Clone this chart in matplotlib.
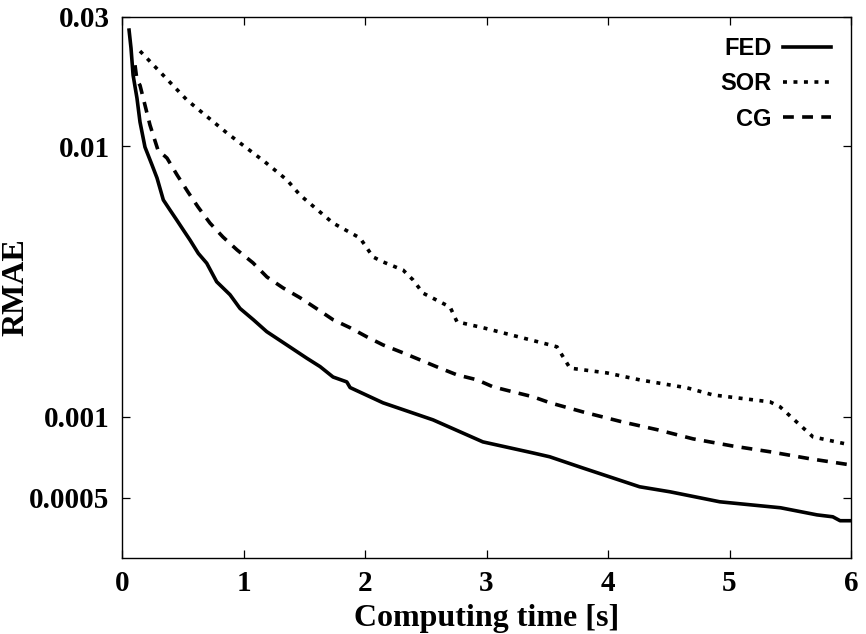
import matplotlib
matplotlib.use("Agg")
import matplotlib.pyplot as plt
from matplotlib.ticker import FixedLocator, FixedFormatter, NullLocator

# FED (explicit diffusion) error vs computing time
fed_t = [0.058, 0.074, 0.091, 0.123, 0.148, 0.189, 0.247, 0.288, 0.340, 0.395,
         0.450, 0.505, 0.560, 0.628, 0.697, 0.779, 0.889, 0.971, 1.081, 1.191,
         1.356, 1.520, 1.630, 1.737, 1.85, 1.877, 2.148, 2.56, 2.97, 3.38,
         3.52, 3.79, 4.26, 4.51, 4.92, 5.42, 5.72, 5.85, 5.91, 6.0]
fed_err = [0.02683, 0.02301, 0.0183, 0.01504, 0.01227, 0.00991, 0.00851, 0.00762, 0.00632, 0.0058,
           0.00533, 0.00489, 0.00449, 0.00401, 0.00369, 0.00315, 0.00282, 0.00251, 0.00228, 0.00206,
           0.00184, 0.001644, 0.00153, 0.0014, 0.001343, 0.00128, 0.001124, 0.000972, 0.000806, 0.000734,
           0.00071, 0.000646, 0.00055, 0.000527, 0.000484, 0.00046, 0.000433, 0.000426, 0.000412, 0.000412]

# SOR
sor_t = [0.148, 0.535, 0.864, 1.177, 1.358, 1.465, 1.737, 1.959, 2.066, 2.148,
         2.313, 2.395, 2.477, 2.70, 2.757, 2.971, 3.523, 3.58, 3.687, 3.99,
         4.263, 4.65, 4.864, 5.333, 5.416, 5.687, 5.992]
sor_err = [0.02245, 0.01479, 0.01117, 0.00873, 0.00749, 0.00659, 0.00519, 0.00457, 0.00389, 0.00373,
           0.00348, 0.0032, 0.00286, 0.00254, 0.00224, 0.00213, 0.00184, 0.00181, 0.00151, 0.00145,
           0.001366, 0.001277, 0.001202, 0.001133, 0.001086, 0.000841, 0.000786]

# CG
cg_t = [0.107, 0.123, 0.148, 0.23, 0.296, 0.37, 0.453, 0.543, 0.626, 0.724,
        0.831, 0.947, 1.078, 1.193, 1.325, 1.465, 1.605, 1.737, 1.877, 2.016,
        2.148, 2.313, 2.453, 2.617, 2.757, 2.922, 3.053, 3.218, 3.383, 3.523,
        3.794, 4.115, 4.41, 4.70, 5.02, 5.333, 5.663, 5.992]
cg_err = [0.0199, 0.01753, 0.01677, 0.01196, 0.00966, 0.00903, 0.00782, 0.00676, 0.00595, 0.00519,
          0.00461, 0.00413, 0.0037, 0.00328, 0.00299, 0.00275, 0.0025, 0.00228, 0.00213, 0.00197,
          0.00184, 0.00172, 0.00162, 0.00151, 0.001426, 0.001367, 0.001288, 0.001234, 0.001183, 0.001124,
          0.00104, 0.000956, 0.000893, 0.000827, 0.000779, 0.000741, 0.000698, 0.000663]

y_ticks = [0.0005, 0.001, 0.01, 0.03]
y_tick_labels = ["0.0005", "0.001", "0.01", "0.03"]
x_ticks = [0, 1, 2, 3, 4, 5, 6]

serif = ["Liberation Serif", "DejaVu Serif"]
sans = ["Liberation Sans", "DejaVu Sans"]

fig = plt.figure(figsize=(8.66, 6.34), dpi=100)
ax = fig.add_axes([0.1409, 0.1199, 0.8418, 0.8533])

lw = 2.6
ax.plot(fed_t, fed_err, color="black", lw=lw, solid_joinstyle="round", label="FED")
ax.plot(sor_t, sor_err, color="black", lw=lw, dashes=(1.1, 1.8), dash_capstyle="butt", label="SOR")
ax.plot(cg_t, cg_err, color="black", lw=lw, dashes=(3.0, 2.3), dash_capstyle="butt", label="CG")

ax.set_yscale("log")
ax.set_xlim(0, 6)
ax.set_ylim(0.0003, 0.03)

ax.yaxis.set_major_locator(FixedLocator(y_ticks))
ax.yaxis.set_major_formatter(FixedFormatter(y_tick_labels))
ax.yaxis.set_minor_locator(NullLocator())
ax.set_xticks(x_ticks)
ax.set_xticklabels([str(v) for v in x_ticks])

ax.tick_params(which="both", direction="in", length=6, width=0.9, top=True, right=True, pad=9)
for lab in ax.get_xticklabels() + ax.get_yticklabels():
    lab.set_family(serif)
    lab.set_fontweight("bold")
    lab.set_fontsize(21)
for sp in ax.spines.values():
    sp.set_linewidth(1.0)

ax.set_xlabel("Computing time [s]", family=serif, fontweight="bold", fontsize=23, labelpad=5)
ax.set_ylabel("RMAE", family=serif, fontweight="bold", fontsize=23)
ax.yaxis.set_label_coords(-0.125, 0.5)

leg = ax.legend(loc="upper right", frameon=False, markerfirst=False,
                prop={"family": sans, "weight": "bold", "size": 17},
                handlelength=2.05, handletextpad=0.47, labelspacing=0.52,
                borderaxespad=0.45)

fig.savefig("out.png", dpi=100)
